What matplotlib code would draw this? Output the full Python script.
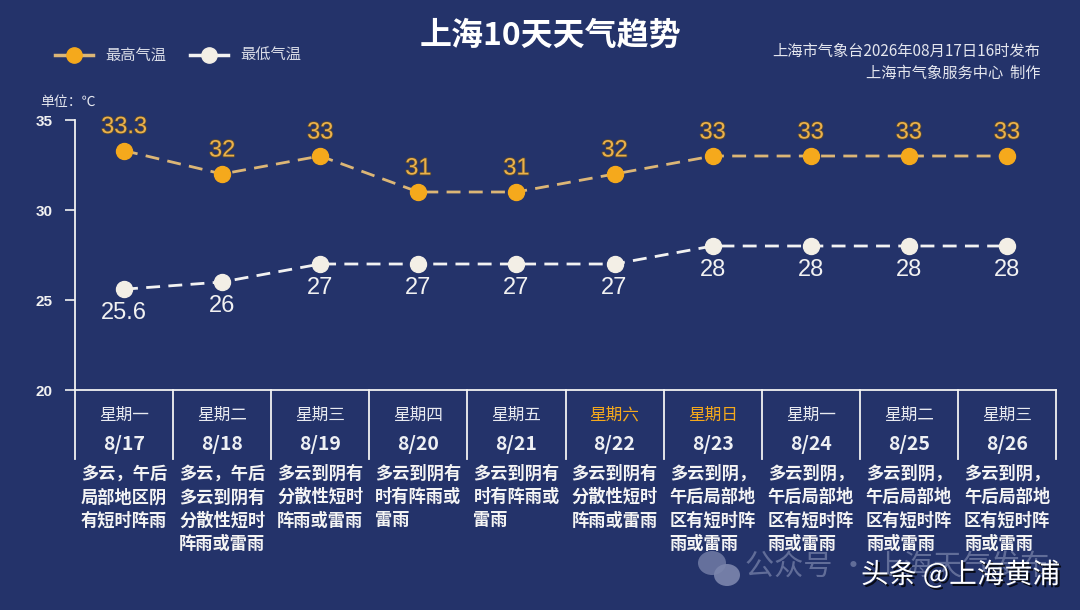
import matplotlib
matplotlib.use("Agg")
import matplotlib.pyplot as plt
import matplotlib.patheffects as pe
from matplotlib.patches import Ellipse

plt.rcParams['font.family'] = ['Noto Sans CJK SC', 'DejaVu Sans']

# ---------------- data ----------------
dates = ["8/17", "8/18", "8/19", "8/20", "8/21", "8/22", "8/23", "8/24", "8/25", "8/26"]
weekdays = ["星期一", "星期二", "星期三", "星期四", "星期五", "星期六", "星期日", "星期一", "星期二", "星期三"]
weekend = [False, False, False, False, False, True, True, False, False, False]
high_temps = [33.3, 32, 33, 31, 31, 32, 33, 33, 33, 33]
low_temps = [25.6, 26, 27, 27, 27, 27, 28, 28, 28, 28]
high_labels = ["33.3", "32", "33", "31", "31", "32", "33", "33", "33", "33"]
low_labels = ["25.6", "26", "27", "27", "27", "27", "28", "28", "28", "28"]
descriptions = [
    ["多云，午后", "局部地区阴", "有短时阵雨"],
    ["多云，午后", "多云到阴有", "分散性短时", "阵雨或雷雨"],
    ["多云到阴有", "分散性短时", "阵雨或雷雨"],
    ["多云到阴有", "时有阵雨或", "雷雨"],
    ["多云到阴有", "时有阵雨或", "雷雨"],
    ["多云到阴有", "分散性短时", "阵雨或雷雨"],
    ["多云到阴，", "午后局部地", "区有短时阵", "雨或雷雨"],
    ["多云到阴，", "午后局部地", "区有短时阵", "雨或雷雨"],
    ["多云到阴，", "午后局部地", "区有短时阵", "雨或雷雨"],
    ["多云到阴，", "午后局部地", "区有短时阵", "雨或雷雨"],
]
y_ticks = [20, 25, 30, 35]
title = "上海10天天气趋势"
legend_names = ["最高气温", "最低气温"]
source_lines = ["上海市气象台2026年08月17日16时发布", "上海市气象服务中心  制作"]
unit_label = "单位：℃"
watermark_faint = "公众号 · 上海天气发布"
watermark_bright = "头条 @上海黄浦"

# ---------------- style ----------------
BG = "#24336a"
ORANGE = "#f5a91c"
ORANGE_LINE = "#dcb676"
GOLD_TEXT = "#ebb14c"
WHITE = "#f2f2f2"
LOW_MARK = "#f3efe6"
W, H = 1080, 610

fig = plt.figure(figsize=(W / 100, H / 100), dpi=100, facecolor=BG)

ax_left, ax_right, ax_top, ax_bottom = 75, 1056, 120, 390
ax = fig.add_axes([ax_left / W, 1 - ax_bottom / H, (ax_right - ax_left) / W, (ax_bottom - ax_top) / H])
ax.set_facecolor(BG)
n = len(dates)
x = list(range(n))
ax.set_xlim(-0.5, n - 0.5)
ax.set_ylim(20, 35)

for s in ["top", "right"]:
    ax.spines[s].set_visible(False)
for s in ["left", "bottom"]:
    ax.spines[s].set_color(WHITE)
    ax.spines[s].set_linewidth(1.3)
ax.set_xticks([])
ax.set_yticks(y_ticks)
ax.set_yticklabels([str(v) for v in y_ticks], fontsize=11, fontweight="bold",
                   color=WHITE, family=["Liberation Sans", "DejaVu Sans"])
ax.tick_params(axis="y", colors=WHITE, length=7, width=1.2, pad=9)

# lines
ax.plot(x, high_temps, color=ORANGE_LINE, lw=2, linestyle=(0, (5, 3)), zorder=2)
ax.plot(x, high_temps, linestyle="none", marker="o", ms=11.5, mfc=ORANGE, mec=ORANGE, zorder=3)
ax.plot(x, low_temps, color=WHITE, lw=2, linestyle=(0, (5, 3)), zorder=2)
ax.plot(x, low_temps, linestyle="none", marker="o", ms=11.5, mfc=LOW_MARK, mec=LOW_MARK, zorder=3)

for xi, v, lab in zip(x, high_temps, high_labels):
    ax.annotate(lab, (xi, v), xytext=(0, 9), textcoords="offset points", ha="center", va="bottom",
                fontsize=17, color=GOLD_TEXT, family=["Liberation Sans", "DejaVu Sans"],
                path_effects=[pe.withStroke(linewidth=1.2, foreground="#5a4a30")])
for xi, v, lab in zip(x, low_temps, low_labels):
    ax.annotate(lab, (xi, v), xytext=(0, -9), textcoords="offset points", ha="center", va="top",
                fontsize=17, color=WHITE, family=["Liberation Sans", "DejaVu Sans"])

# table below
def axy(py):
    return (ax_bottom - py) / (ax_bottom - ax_top)

tr = ax.get_xaxis_transform()
for b in range(n + 1):
    ax.plot([b - 0.5, b - 0.5], [0, axy(459)], transform=tr, color=WHITE, lw=1.3, clip_on=False)

for i in range(n):
    ax.text(i, axy(415), weekdays[i], transform=tr, ha="center", va="center", fontsize=12,
            color=(ORANGE if weekend[i] else "#e8eaf0"))
    ax.text(i, axy(444), dates[i], transform=tr, ha="center", va="center", fontsize=14,
            fontweight="bold", color="#eef0f4")
    for j, line in enumerate(descriptions[i]):
        ax.text(i - 0.5 + 6 / 98, axy(474 + j * 23.2), line, transform=tr, ha="left", va="center",
                fontsize=12.4, fontweight="bold", color="#f4f4f4")

# title and header texts
fig.text(550 / W, 1 - 36 / H, title, ha="center", va="center", fontsize=23, fontweight="bold", color="white")
fig.text(1040 / W, 1 - 51 / H, source_lines[0], ha="right", va="center", fontsize=11, color="#e4e6ee")
fig.text(1040 / W, 1 - 73 / H, source_lines[1], ha="right", va="center", fontsize=11, color="#e4e6ee")
fig.text(40 / W, 1 - 102 / H, unit_label, ha="left", va="center", fontsize=10, color="#e4e6ee")

# legend
lg_y = 1 - 55 / H
for (x0, x1, xm, lc, mc, tx, name) in [
    (55, 93, 74, ORANGE_LINE, ORANGE, 105, legend_names[0]),
    (190, 228, 209, WHITE, LOW_MARK, 240, legend_names[1]),
]:
    fig.add_artist(plt.Line2D([x0 / W, x1 / W], [lg_y, lg_y], color=lc, lw=2.5, transform=fig.transFigure))
    fig.add_artist(plt.Line2D([xm / W], [lg_y], marker="o", ms=11, mfc=mc, mec=mc, transform=fig.transFigure))
    fig.text(tx / W, lg_y, name, ha="left", va="center", fontsize=11, color="#d8dbe6")

# watermark
FAINT = "#7c86ad"
fig.add_artist(Ellipse((712 / W, 1 - 563 / H), 28 / W, 24 / H, transform=fig.transFigure,
                       color=FAINT, alpha=0.75, lw=0))
fig.add_artist(Ellipse((727 / W, 1 - 575 / H), 26 / W, 22 / H, transform=fig.transFigure,
                       color=FAINT, alpha=0.9, lw=0, ec=BG))
fig.text(745 / W, 1 - 568 / H, watermark_faint, ha="left", va="center", fontsize=21,
         color=FAINT, alpha=0.7)
fig.text(1060 / W, 1 - 575 / H, watermark_bright, ha="right", va="center", fontsize=20,
         color="white", path_effects=[pe.withSimplePatchShadow(offset=(1.5, -1.5), shadow_rgbFace="black", alpha=0.8)])

fig.savefig("out.png", dpi=100, facecolor=BG)
